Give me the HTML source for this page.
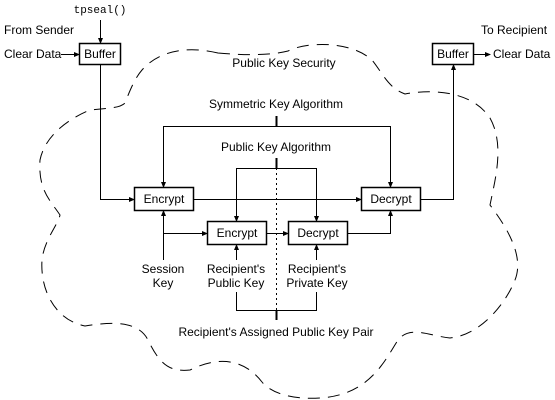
<!DOCTYPE html>
<html><head><meta charset="utf-8"><style>
html,body{margin:0;padding:0;background:#fff}
svg{display:block}
text{font-family:"Liberation Sans",sans-serif;font-size:12px;fill:#000}
</style></head><body>
<svg width="555" height="400" viewBox="0 0 555 400" xmlns="http://www.w3.org/2000/svg">
<defs><marker id="a" markerWidth="6" markerHeight="6" refX="5" refY="3" orient="auto" markerUnits="userSpaceOnUse"><path d="M0,0.5 L6,3 L0,5.5 z" fill="#000"/></marker></defs>
<!-- cloud -->
<path d="M218,53 C240,55 268,56 288,51 C305,42 350,40 372,60 C382,72 388,88 405,94 C425,90 470,88 490,118 C505,145 495,180 490,205 C505,225 525,255 515,280 C505,305 480,335 450,338 C430,336 410,325 398,340 C385,360 370,395 320,398 C290,400 270,392 262,382 C245,360 220,355 190,370 C170,372 160,365 148,340 C138,320 110,322 85,326 C55,320 40,290 42,260 C44,240 58,225 60,215 C50,200 38,190 40,160 C45,135 70,118 90,110 C110,108 120,108 125,103 C130,90 135,78 142,70 C155,55 180,44 218,53 Z" fill="none" stroke="#000" stroke-width="1" stroke-dasharray="12,8"/>
<g stroke="#000" stroke-width="1" fill="none">
<rect x="79.5" y="43.5" width="41" height="21" fill="#fff" stroke-width="1.5"/>
<rect x="432.5" y="43.5" width="41" height="21" fill="#fff" stroke-width="1.5"/>
<rect x="134.5" y="187.5" width="59" height="23" fill="#fff" stroke-width="1.5"/>
<rect x="207.5" y="221.5" width="59" height="23" fill="#fff" stroke-width="1.5"/>
<rect x="288.5" y="221.5" width="59" height="23" fill="#fff" stroke-width="1.5"/>
<rect x="361.5" y="187.5" width="59" height="23" fill="#fff" stroke-width="1.5"/>
<path d="M100.5,20 V43" marker-end="url(#a)"/>
<path d="M61,54.5 H79" marker-end="url(#a)"/>
<path d="M474,54.5 H490" marker-end="url(#a)"/>
<path d="M100.5,65 V199.5 H134" marker-end="url(#a)"/>
<path d="M194,199.5 H361" marker-end="url(#a)"/>
<path d="M421,199.5 H453.5 V65" marker-end="url(#a)"/>
<path d="M276.5,116 V126" stroke-width="2"/>
<path d="M163.5,187 V126.5 H390.5 V187" />
<path d="M163.5,126.5 V187" marker-end="url(#a)"/>
<path d="M390.5,126.5 V187" marker-end="url(#a)"/>
<path d="M276.5,158 V168" stroke-width="2"/>
<path d="M236.5,221 V168.5 H316.5 V221"/>
<path d="M236.5,200 V221" marker-end="url(#a)"/>
<path d="M316.5,200 V221" marker-end="url(#a)"/>
<path d="M276.5,168 V310" stroke-dasharray="2,3"/>
<path d="M163.5,260 V211" marker-end="url(#a)"/>
<path d="M163.5,233.5 H207" marker-end="url(#a)"/>
<path d="M267,233.5 H288" marker-end="url(#a)"/>
<path d="M348,233.5 H390.5 V211" marker-end="url(#a)"/>
<path d="M236.5,260 V245" marker-end="url(#a)"/>
<path d="M316.5,260 V245" marker-end="url(#a)"/>
<path d="M236.5,292 V310.5 H316.5 V292"/>
<path d="M276.5,310 V320" stroke-width="2"/>
</g>
<text x="100" y="13" text-anchor="middle" style="font-family:'Liberation Mono',monospace;font-size:11px">tpseal()</text>
<text x="4" y="34">From Sender</text>
<text x="4" y="58">Clear Data</text>
<text x="100" y="58" text-anchor="middle">Buffer</text>
<text x="453" y="58" text-anchor="middle">Buffer</text>
<text x="481" y="34">To Recipient</text>
<text x="493" y="58">Clear Data</text>
<text x="284" y="67" text-anchor="middle">Public Key Security</text>
<text x="276" y="108" text-anchor="middle">Symmetric Key Algorithm</text>
<text x="276" y="151" text-anchor="middle">Public Key Algorithm</text>
<text x="164" y="203" text-anchor="middle">Encrypt</text>
<text x="391" y="203" text-anchor="middle">Decrypt</text>
<text x="237" y="237" text-anchor="middle">Encrypt</text>
<text x="318" y="237" text-anchor="middle">Decrypt</text>
<text x="163" y="273" text-anchor="middle">Session</text>
<text x="163" y="287" text-anchor="middle">Key</text>
<text x="236" y="273" text-anchor="middle">Recipient's</text>
<text x="236" y="287" text-anchor="middle">Public Key</text>
<text x="317" y="273" text-anchor="middle">Recipient's</text>
<text x="317" y="287" text-anchor="middle">Private Key</text>
<text x="276" y="336" text-anchor="middle">Recipient's Assigned Public Key Pair</text>
</svg>
</body></html>
